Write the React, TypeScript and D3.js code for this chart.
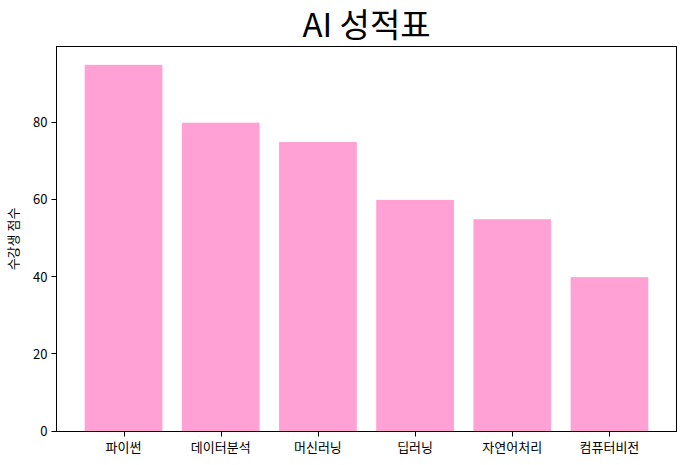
import React from "react";
import * as d3 from "d3";

const categories = ["파이썬", "데이터분석", "머신러닝", "딥러닝", "자연어처리", "컴퓨터비전"];
const values = [95, 80, 75, 60, 55, 40];
const yTicks = [0, 20, 40, 60, 80];
const title = "AI 성적표";
const yLabel = "수강생 점수";

const W = 685, H = 465;
const L = 56.5, R = 676.5, T = 46.5, B = 431.5;
const FONT = "'Noto Sans CJK KR', 'DejaVu Sans', sans-serif";

export default function App() {
  const n = categories.length;
  const x = d3.scaleLinear().domain([-0.69, n - 1 + 0.69]).range([L, R]);
  const y = d3.scaleLinear().domain([0, d3.max(values)! * 1.05]).range([B, T]);
  const bw = x(0.8) - x(0);
  return (
    <svg width={W} height={H} style={{ position: "absolute", left: 0, top: 0, background: "#fff" }}>
      <rect x={0} y={0} width={W} height={H} fill="#fff" />
      {values.map((v, i) => (
        <rect key={i} x={x(i) - bw / 2} y={y(v)} width={bw} height={B - y(v)} fill="#ffa1d4" />
      ))}
      <rect x={L} y={T} width={R - L} height={B - T} fill="none" stroke="#000" strokeWidth={1} />
      {yTicks.map((t) => (
        <g key={t}>
          <line x1={L - 5} x2={L} y1={Math.round(y(t)) - 0.5} y2={Math.round(y(t)) - 0.5} stroke="#000" />
          <text x={L - 9} y={y(t)} dy="0.35em" textAnchor="end" fontSize={13} fontFamily={FONT} fill="#000">
            {t}
          </text>
        </g>
      ))}
      {categories.map((c, i) => (
        <g key={c}>
          <line x1={Math.round(x(i)) + 0.5} x2={Math.round(x(i)) + 0.5} y1={B} y2={B + 5} stroke="#000" />
          <text x={x(i)} y={B + 20} textAnchor="middle" fontSize={13} fontFamily={FONT} fill="#000">
            {c}
          </text>
        </g>
      ))}
      <text
        transform={`translate(18,${(T + B) / 2}) rotate(-90)`}
        textAnchor="middle"
        fontSize={13}
        fontFamily={FONT}
        fill="#000"
      >
        {yLabel}
      </text>
      <text x={(L + R) / 2} y={37} textAnchor="middle" fontSize={33} fontFamily={FONT} fill="#000">
        {title}
      </text>
    </svg>
  );
}
